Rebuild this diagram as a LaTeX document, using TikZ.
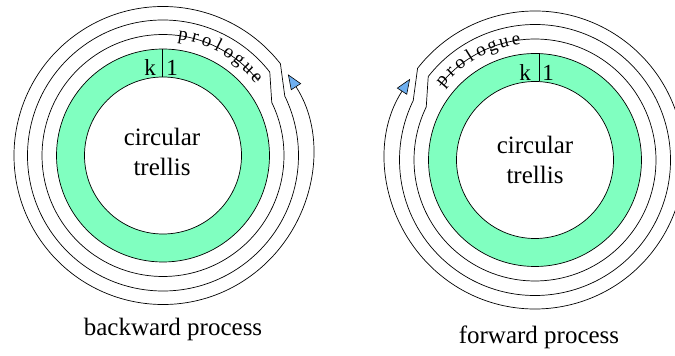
\documentclass[tikz,border=0pt]{standalone}
\usepackage{fontspec}
\setmainfont{Liberation Serif}
\usetikzlibrary{arrows.meta,calc}
\definecolor{ringgreen}{RGB}{128,255,192}
\definecolor{tipblue}{RGB}{110,175,240}
\begin{document}
\begin{tikzpicture}[x=1pt,y=1pt,
  wire/.style={line width=0.7pt},
  ring/.style={wire, draw=black, fill=ringgreen, even odd rule},
  spiral/.style={wire, -{Triangle[length=15pt,width=12pt,fill=tipblue,line width=0.6pt]}},
  bigtext/.style={font=\fontsize{25}{29.5}\selectfont, align=center, inner sep=0pt},
  cell/.style={font=\fontsize{23}{23}\selectfont, inner sep=0pt},
  letter/.style={font=\fontsize{19}{19}\selectfont, inner sep=0pt, anchor=base}
]
\clip (0,0) rectangle (675,356);

% ---------- backward process ----------
\coordinate (c1) at (163,200.5);
\path[ring] (c1) circle[radius=106.5pt] (c1) circle[radius=78.5pt];
\coordinate (d1a) at ($(c1)+(-1,78.5)$);
\coordinate (d1b) at ($(c1)+(-1,106.5)$);
\draw[wire] (d1a) -- (d1b);
\node[cell] (k1) at ($(c1)+(-13,88)$) {k};
\node[cell] (one1) at ($(c1)+(9,88)$) {1};
\node[bigtext] (tr1) at ($(c1)+(-1,3.5)$) {circular\\trellis};

\draw[spiral] ($(c1)+(38:121pt)$) arc[start angle=38, end angle=386, radius=121pt]
  -- ($(c1)+(398:135.5pt)$) arc[start angle=398, end angle=746, radius=135.5pt]
  -- ($(c1)+(758:149pt)$) arc[start angle=758, end angle=1113, radius=149pt];
% "prologue" set letter by letter along the first lap
\foreach \ch [count=\i from 0] in {p,r,o,l,o,g,u,e} {
  \pgfmathsetmacro\ang{80.5-5.8*\i}
  \pgfmathsetmacro\rot{\ang-90}
  \node[letter, rotate=\rot] (pa\i) at ($(c1)+(\ang:117pt)$) {\ch};
}

\node[bigtext] (lab1) at (173,27) {backward process};

% ---------- forward process ----------
\coordinate (c2) at (535,196);
\path[ring] (c2) circle[radius=106.5pt] (c2) circle[radius=78.5pt];
\coordinate (d2a) at ($(c2)+(4,78.5)$);
\coordinate (d2b) at ($(c2)+(4,106.5)$);
\draw[wire] (d2a) -- (d2b);
\node[cell] (k2) at ($(c2)+(-10,87)$) {k};
\node[cell] (one2) at ($(c2)+(13,87)$) {1};
\node[bigtext] (tr2) at ($(c2)+(0,0)$) {circular\\trellis};

\draw[spiral] ($(c2)+(142:121pt)$) arc[start angle=142, end angle=-206, radius=121pt]
  -- ($(c2)+(-218:135.5pt)$) arc[start angle=-218, end angle=-566, radius=135.5pt]
  -- ($(c2)+(-578:149pt)$) arc[start angle=-578, end angle=-933, radius=149pt];
\foreach \ch [count=\i from 0] in {p,r,o,l,o,g,u,e} {
  \pgfmathsetmacro\ang{139.5-5.8*\i}
  \pgfmathsetmacro\rot{\ang-90}
  \node[letter, rotate=\rot] (pb\i) at ($(c2)+(\ang:117pt)$) {\ch};
}

\node[bigtext] (lab2) at (539,19) {forward process};
\end{tikzpicture}
\end{document}
